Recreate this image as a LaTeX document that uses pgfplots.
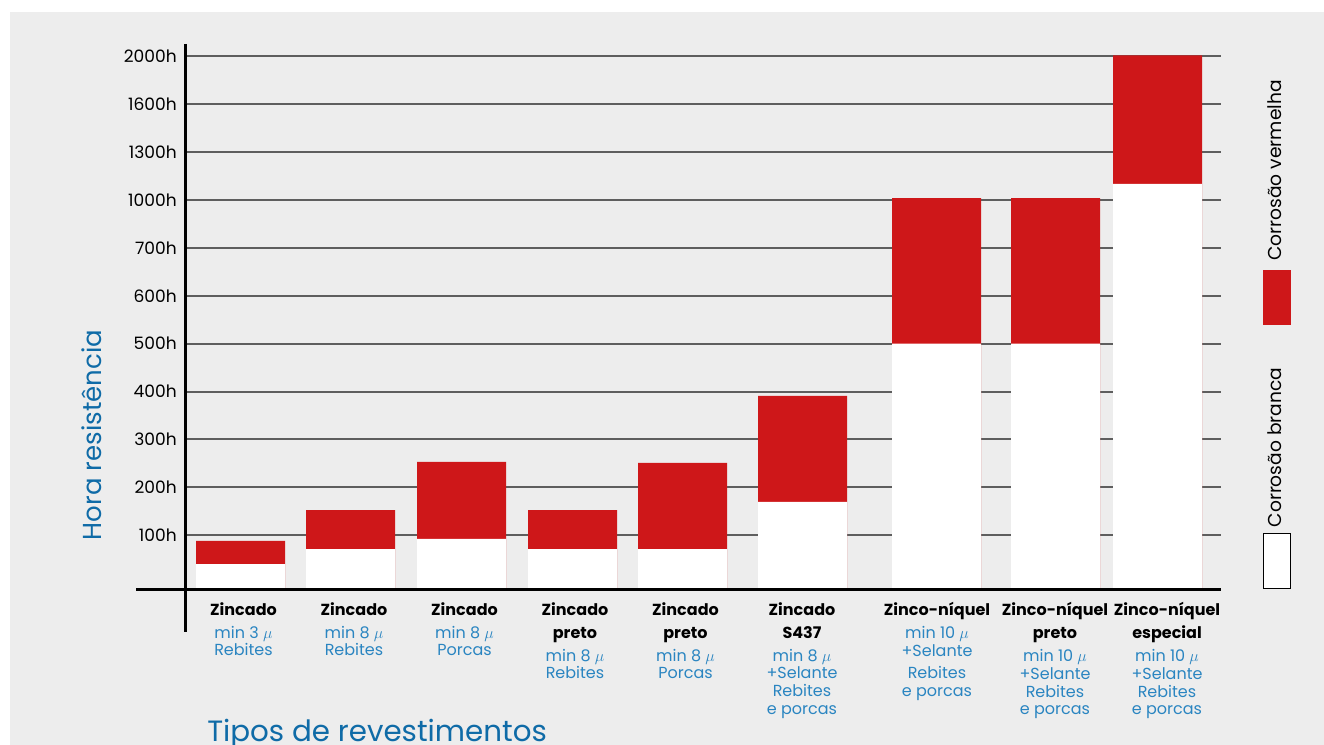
\documentclass[border=0pt]{standalone}
\usepackage{pgfplots}
\pgfplotsset{compat=1.18}
\usepackage{fontspec}
\setmainfont{Poppins}

\definecolor{cred}{HTML}{CE1719}
\definecolor{bg}{HTML}{EDEDED}
\definecolor{gridgray}{HTML}{5E5E5E}
\definecolor{lblue}{HTML}{2A85C1}
\definecolor{tblue}{HTML}{0F6BA7}

% bold black line / blue line of a category label
\newcommand{\bk}[1]{{\fontsize{12}{13}\selectfont\bfseries #1}}
\newcommand{\bl}[1]{\textcolor{lblue}{#1}}

\begin{document}
\begin{tikzpicture}[x=0.75pt,y=0.75pt]
% page and grey panel (1 unit = 1 px of the reference, y measured up from the baseline)
\fill[white] (0,-156) rectangle (1324,589);
\fill[bg] (10,-156) rectangle (1324,577);

\begin{axis}[
    at={(138.75pt,0pt)}, anchor=south west,
    x=0.75pt, y=0.75pt,
    xmin=185, xmax=1221,
    ymin=0, ymax=2100,
    % the hour scale of the chart is not linear: 100h steps up to 700h, then 300h/400h steps
    y coord trafo/.code={\pgfmathparse{#1<=100 ? 0.54*#1 : (#1<=700 ? 54+0.4783*(#1-100) : (#1<=1600 ? 341+0.16*(#1-700) : 485+0.12*(#1-1600)))}},
    axis lines=left,
    axis line style={draw=none,-},
    major tick length=0pt,
    ymajorgrids=true,
    grid style={gridgray, line width=1.5pt},
    ytick={100,200,300,400,500,600,700,1000,1300,1600,2000},
    yticklabels={100h,200h,300h,400h,500h,600h,700h,1000h,1300h,1600h,2000h},
    yticklabel style={anchor=east, inner sep=0pt, xshift=-6pt, font=\fontsize{12.8}{14}\selectfont},
    xtick={243.5,354,464.5,575,685.5,802,937,1055,1167},
    xticklabels={
        {\bk{Zincado}\\[4pt]\bl{min 3 $\mu$}\\\bl{Rebites}},
        {\bk{Zincado}\\[4pt]\bl{min 8 $\mu$}\\\bl{Rebites}},
        {\bk{Zincado}\\[4pt]\bl{min 8 $\mu$}\\\bl{Porcas}},
        {\bk{Zincado}\\[4pt]\bk{preto}\\[4pt]\bl{min 8 $\mu$}\\\bl{Rebites}},
        {\bk{Zincado}\\[4pt]\bk{preto}\\[4pt]\bl{min 8 $\mu$}\\\bl{Porcas}},
        {\bk{Zincado}\\[4pt]\bk{S437}\\[4pt]\bl{min 8 $\mu$}\\\bl{+Selante}\\\bl{Rebites}\\\bl{e porcas}},
        {\bk{Zinco-níquel}\\[4pt]\bl{min 10 $\mu$}\\\bl{+Selante}\\[3.5pt]\bl{Rebites}\\\bl{e porcas}},
        {\bk{Zinco-níquel}\\[4pt]\bk{preto}\\[4pt]\bl{min 10 $\mu$}\\\bl{+Selante}\\\bl{Rebites}\\\bl{e porcas}},
        {\bk{Zinco-níquel}\\[4pt]\bk{especial}\\[4pt]\bl{min 10 $\mu$}\\\bl{+Selante}\\\bl{Rebites}\\\bl{e porcas}},
    },
    xticklabel style={align=center, anchor=north, inner sep=0pt, yshift=-9.75pt, font=\fontsize{12}{13.3}\selectfont},
]
% red corrosion (total hours)
\addplot[ybar, bar width=89, bar shift=0pt, fill=cred, draw=none] coordinates {
    (240.5,89) (350.5,152) (461.5,253) (572.5,152) (682.5,251)
    (802.5,391) (936.5,1012) (1055.5,1012) (1157.5,2005)
};
% white corrosion
\addplot[ybar, bar width=89, bar shift=0pt, fill=white, draw=none] coordinates {
    (240.5,46) (350.5,74) (461.5,93) (572.5,74) (682.5,74)
    (802.5,169) (936.5,500) (1055.5,500) (1157.5,1100)
};
\end{axis}

% axis lines
\draw[line width=2.2pt] (185.5,545) -- (185.5,-43);
\draw[line width=2.2pt] (136,-0.5) -- (1221,-0.5);

% titles
\node[rotate=90, text=tblue, font=\fontsize{19.5}{22}\selectfont] at (92,154) {Hora resistência};
\node[anchor=base west, inner sep=0pt, text=tblue, font=\fontsize{22}{26}\selectfont] at (207,-153) {Tipos de revestimentos};

% legend
\node[rotate=90, font=\fontsize{14}{16}\selectfont] at (1274.5,418.5) {Corrosão vermelha};
\fill[cred] (1263,264) rectangle (1291,319);
\node[rotate=90, font=\fontsize{14}{16}\selectfont] at (1274.5,141.5) {Corrosão branca};
\draw[black, fill=white, line width=0.8pt] (1263.5,0.5) rectangle (1290.5,55.5);

\pgfresetboundingbox
\path[use as bounding box] (0,-156) rectangle (1324,589);
\end{tikzpicture}
\end{document}
